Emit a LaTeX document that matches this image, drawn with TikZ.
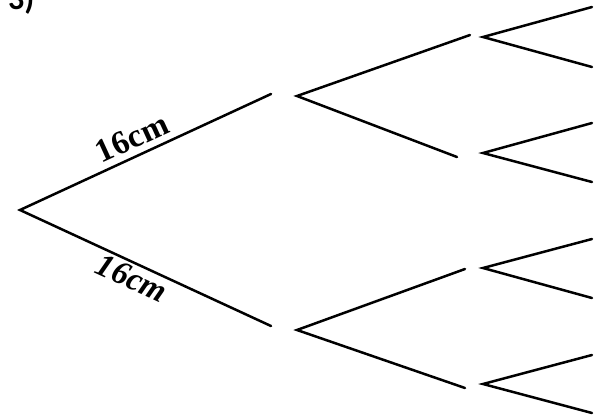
\documentclass[tikz,border=0pt]{standalone}
\usepackage{fontspec}
\setmainfont{Liberation Serif}
\newfontfamily\numfont{Carlito}
\begin{document}
\begin{tikzpicture}[x=1pt,y=-1pt,
  branch/.style={line width=2.5pt, line cap=round},
  lenlabel/.style={font=\fontsize{33}{33}\selectfont\bfseries, inner sep=0pt},
  qlabel/.style={font=\numfont\bfseries\fontsize{32}{32}\selectfont, inner sep=0pt, anchor=base west}]
\useasboundingbox (0,0) rectangle (603,416);
\clip (0,0) rectangle (603,416);
% level 1
\coordinate (r) at (20,210);
\coordinate (a1) at (271,94);
\coordinate (b1) at (271,326);
% level 2
\coordinate (a) at (297,96);
\coordinate (au) at (470,35);
\coordinate (ad) at (457,157);
\coordinate (b) at (297,330);
\coordinate (bu) at (465,269);
\coordinate (bd) at (465,388);
% level 3
\coordinate (c1) at (483,37);  \coordinate (c1u) at (592,7);   \coordinate (c1d) at (592,67);
\coordinate (c2) at (483,153); \coordinate (c2u) at (592,123); \coordinate (c2d) at (592,182);
\coordinate (c3) at (483,268); \coordinate (c3u) at (592,239); \coordinate (c3d) at (592,298);
\coordinate (c4) at (483,384); \coordinate (c4u) at (592,355); \coordinate (c4d) at (592,413);

\draw[branch] (a1) -- (r) -- (b1);
\draw[branch] (au) -- (a) -- (ad);
\draw[branch] (bu) -- (b) -- (bd);
\draw[branch] (c1u) -- (c1) -- (c1d);
\draw[branch] (c2u) -- (c2) -- (c2d);
\draw[branch] (c3u) -- (c3) -- (c3d);
\draw[branch] (c4u) -- (c4) -- (c4d);

\node[lenlabel, rotate=24.7] (l1) at (132,138) {1\kern1pt 6cm};
\node[lenlabel, font=\fontsize{33}{33}\selectfont\bfseries\itshape, rotate=-24.7] (l2) at (132,278) {1\kern1pt 6cm};
\node[qlabel] (q) at (8,9) {3)};
\end{tikzpicture}
\end{document}
